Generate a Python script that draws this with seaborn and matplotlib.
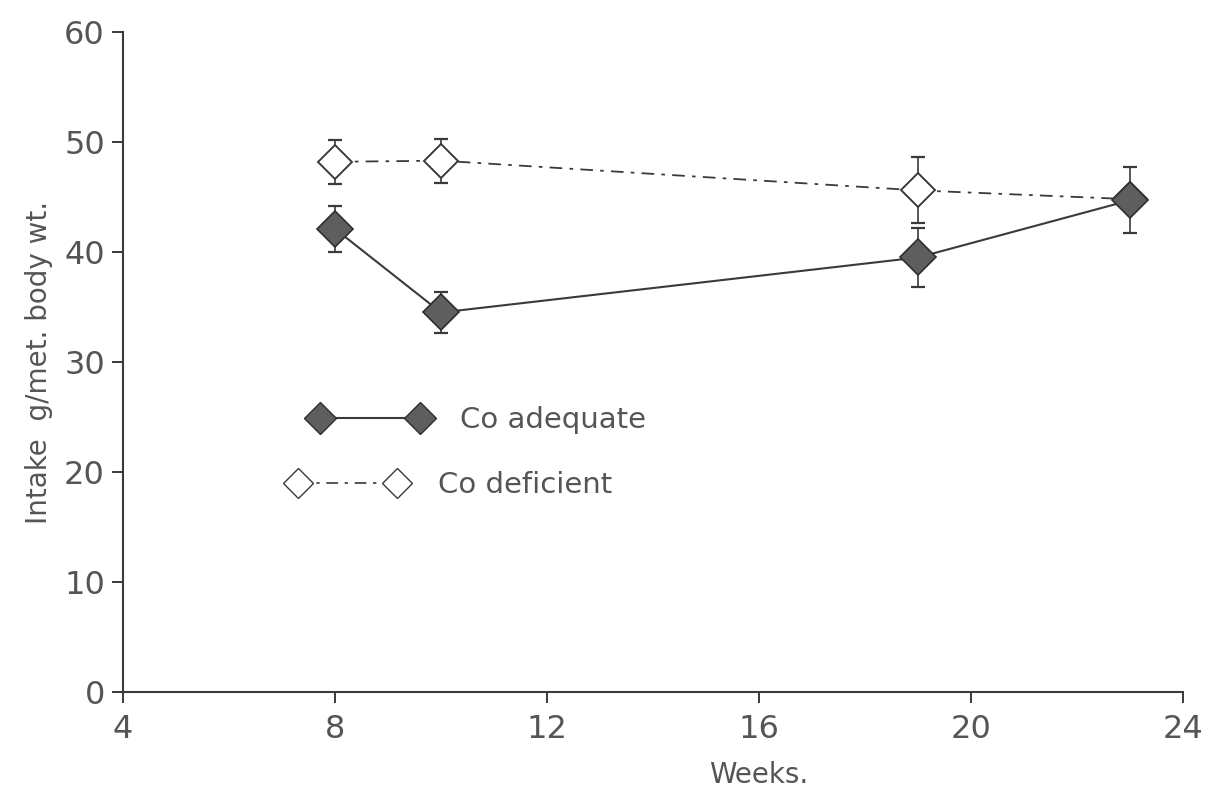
import matplotlib
matplotlib.use("Agg")
import matplotlib.pyplot as plt
import seaborn as sns
import pandas as pd
from matplotlib.lines import Line2D
from matplotlib.legend import Legend

# Weekly intake (g per metabolic body weight) with standard errors
weeks_adequate = [8, 10, 19, 23]
intake_adequate = [42.1, 34.5, 39.5, 44.7]
err_adequate = [2.1, 1.9, 2.7, 3.0]

weeks_deficient = [8, 10, 19, 23]
intake_deficient = [48.2, 48.3, 45.6, 44.8]
err_deficient = [2.0, 2.0, 3.0, 0.0]

series_names = ["Co adequate", "Co deficient"]
x_ticks = [4, 8, 12, 16, 20, 24]
y_ticks = [0, 10, 20, 30, 40, 50, 60]

df = pd.DataFrame({
    "week": weeks_adequate + weeks_deficient,
    "intake": intake_adequate + intake_deficient,
    "group": [series_names[0]] * len(weeks_adequate) + [series_names[1]] * len(weeks_deficient),
})

sns.set_theme(style="white")
plt.rcParams["font.family"] = ["DejaVu Sans"]

ink = "#3a3a3a"
text_col = "#555555"
fill_col = "#5e5e5e"

fig = plt.figure(figsize=(12.24, 7.94), dpi=100)
ax = fig.add_axes([0.1005, 0.1285, 0.866, 0.8312])

dash_dot = (0, (7, 4, 2, 4))

# error bars first so markers sit on top
ax.errorbar(weeks_adequate, intake_adequate, yerr=err_adequate, fmt="none",
            ecolor=ink, elinewidth=1.2, capsize=5, capthick=1.6, zorder=2)
ax.errorbar(weeks_deficient, intake_deficient, yerr=err_deficient, fmt="none",
            ecolor=ink, elinewidth=1.2, capsize=5, capthick=1.6, zorder=2)

sns.lineplot(data=df[df.group == series_names[1]], x="week", y="intake", ax=ax,
             color=ink, linewidth=1.3, linestyle=dash_dot, marker="D",
             markersize=17, markerfacecolor="white", markeredgecolor=ink,
             markeredgewidth=1.4, legend=False, zorder=3)
sns.lineplot(data=df[df.group == series_names[0]], x="week", y="intake", ax=ax,
             color=ink, linewidth=1.5, linestyle="-", marker="D",
             markersize=18, markerfacecolor=fill_col, markeredgecolor="#2e2e2e",
             markeredgewidth=1.2, legend=False, zorder=4)

ax.set_xlim(4, 24)
ax.set_ylim(0, 60)
ax.set_xticks(x_ticks)
ax.set_yticks(y_ticks)
ax.set_xticklabels([str(t) for t in x_ticks])
ax.set_yticklabels([str(t) for t in y_ticks])

for side in ["top", "right"]:
    ax.spines[side].set_visible(False)
for side in ["left", "bottom"]:
    ax.spines[side].set_color(ink)
    ax.spines[side].set_linewidth(1.5)

ax.tick_params(axis="both", which="major", direction="out", length=8, width=1.4,
               color=ink, labelsize=23, labelcolor=text_col, pad=5,
               bottom=True, left=True)
ax.tick_params(axis="x", pad=8)

ax.set_xlabel("Weeks.", fontsize=20, color=text_col)
ax.xaxis.set_label_coords(0.60, -0.105)
ax.set_ylabel("Intake  g/met. body wt.", fontsize=20, color=text_col, labelpad=8)

# two legend entries, the second one set a little further left
handles = [
    Line2D([], [], color=ink, linewidth=1.5, linestyle="-", marker="D",
           markersize=16, markerfacecolor=fill_col, markeredgecolor="#2e2e2e"),
    Line2D([], [], color=ink, linewidth=1.2, linestyle=dash_dot, marker="D",
           markersize=15, markerfacecolor="white", markeredgecolor=ink),
]
legend_pos = [(0.178, 0.412), (0.157, 0.314)]
for handle, name, pos in zip(handles, series_names, legend_pos):
    leg = Legend(ax, [handle], [name], loc="center left", bbox_to_anchor=pos,
                 frameon=False, numpoints=2, handlelength=4.0, handletextpad=1.1,
                 borderpad=0, borderaxespad=0, fontsize=21)
    for t in leg.get_texts():
        t.set_color(text_col)
    ax.add_artist(leg)

fig.savefig("out.png", dpi=100, facecolor="white")
